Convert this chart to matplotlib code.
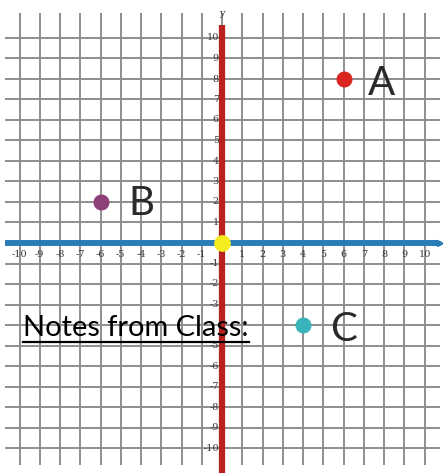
import numpy as np
import matplotlib
matplotlib.use("Agg")
import matplotlib.pyplot as plt

# points on the grid
point_names = ["A", "B", "C"]
point_x = [6, -6, 4]
point_y = [8, 2, -4]
point_colors = ["#d92420", "#8e3f78", "#3ab4bc"]
# where the letters sit
label_x = [7.9, -4.0, 6.0]
label_y = [7.8, 1.95, -4.2]

ticks = np.arange(-10, 11)
tick_labels = [str(t) for t in ticks]
hidden_y_labels = [-4]   # covered by the notes heading in the picture

grid_col = "#8e8e8e"

fig = plt.figure(figsize=(4.43, 4.73), dpi=100)
ax = fig.add_axes([0, 0, 1, 1])
ax.set_xlim(-222 / 20.25, (443 - 222) / 20.25)
ax.set_ylim(-(473 - 243) / 20.5, 243 / 20.5)
ax.axis("off")

# grid
ax.vlines(ticks, -10.83, 11.2, color=grid_col, lw=1.4, zorder=1)
ax.hlines(ticks, -10.72, 10.77, color=grid_col, lw=1.4, zorder=1)

# axes lines
ax.plot([0, 0], [10.63, -11.6], color="#b8211d", lw=4.5, solid_capstyle="butt", zorder=3)
ax.plot([-10.72, 10.65], [0, 0], color="#2a7cb8", lw=4.3, solid_capstyle="butt", zorder=4)
ax.plot([10.75], [0], marker=">", color="#2a7cb8", ms=5, zorder=4)
ax.plot([0], [0], "o", color="#f4ec1c", ms=11, zorder=5)

# tick labels
for t, s in zip(ticks, tick_labels):
    if t == 0:
        continue
    ax.text(t, -0.58, s, ha="center", va="center", fontsize=7, color="#3a3a3a",
            family="DejaVu Serif", zorder=6)
    if t not in hidden_y_labels:
        ax.text(-0.15, t, s, ha="right", va="center", fontsize=7, color="#3a3a3a",
                family="DejaVu Serif", zorder=6)
ax.text(0, 11.2, "y", ha="center", va="center", fontsize=7, color="#334",
        family="DejaVu Serif", zorder=6)

# points and letters
for n, px, py, c, lx, ly in zip(point_names, point_x, point_y, point_colors, label_x, label_y):
    ax.plot([px], [py], "o", color=c, ms=10.5, zorder=7)
    ax.text(lx, ly, n, ha="center", va="center", fontsize=29, color="#2a2a2a",
            family="Lato", zorder=7)

# notes heading, underlined
notes = ax.text(-9.83, -4.55, "Notes from Class:", ha="left", va="baseline",
                fontsize=20, color="black", family="Lato", zorder=8)
fig.canvas.draw()
r = fig.canvas.get_renderer()
bb = notes.get_window_extent(r)
notes.set_fontsize(20 * 226 / bb.width)
fig.canvas.draw()
bb = notes.get_window_extent(r)
inv = ax.transData.inverted()
x0, _ = inv.transform((bb.x0, 0))
x1, _ = inv.transform((bb.x1, 0))
ax.plot([x0, x1], [-4.82, -4.82], color="black", lw=1.6, zorder=8)

fig.savefig("out.png", dpi=100)
